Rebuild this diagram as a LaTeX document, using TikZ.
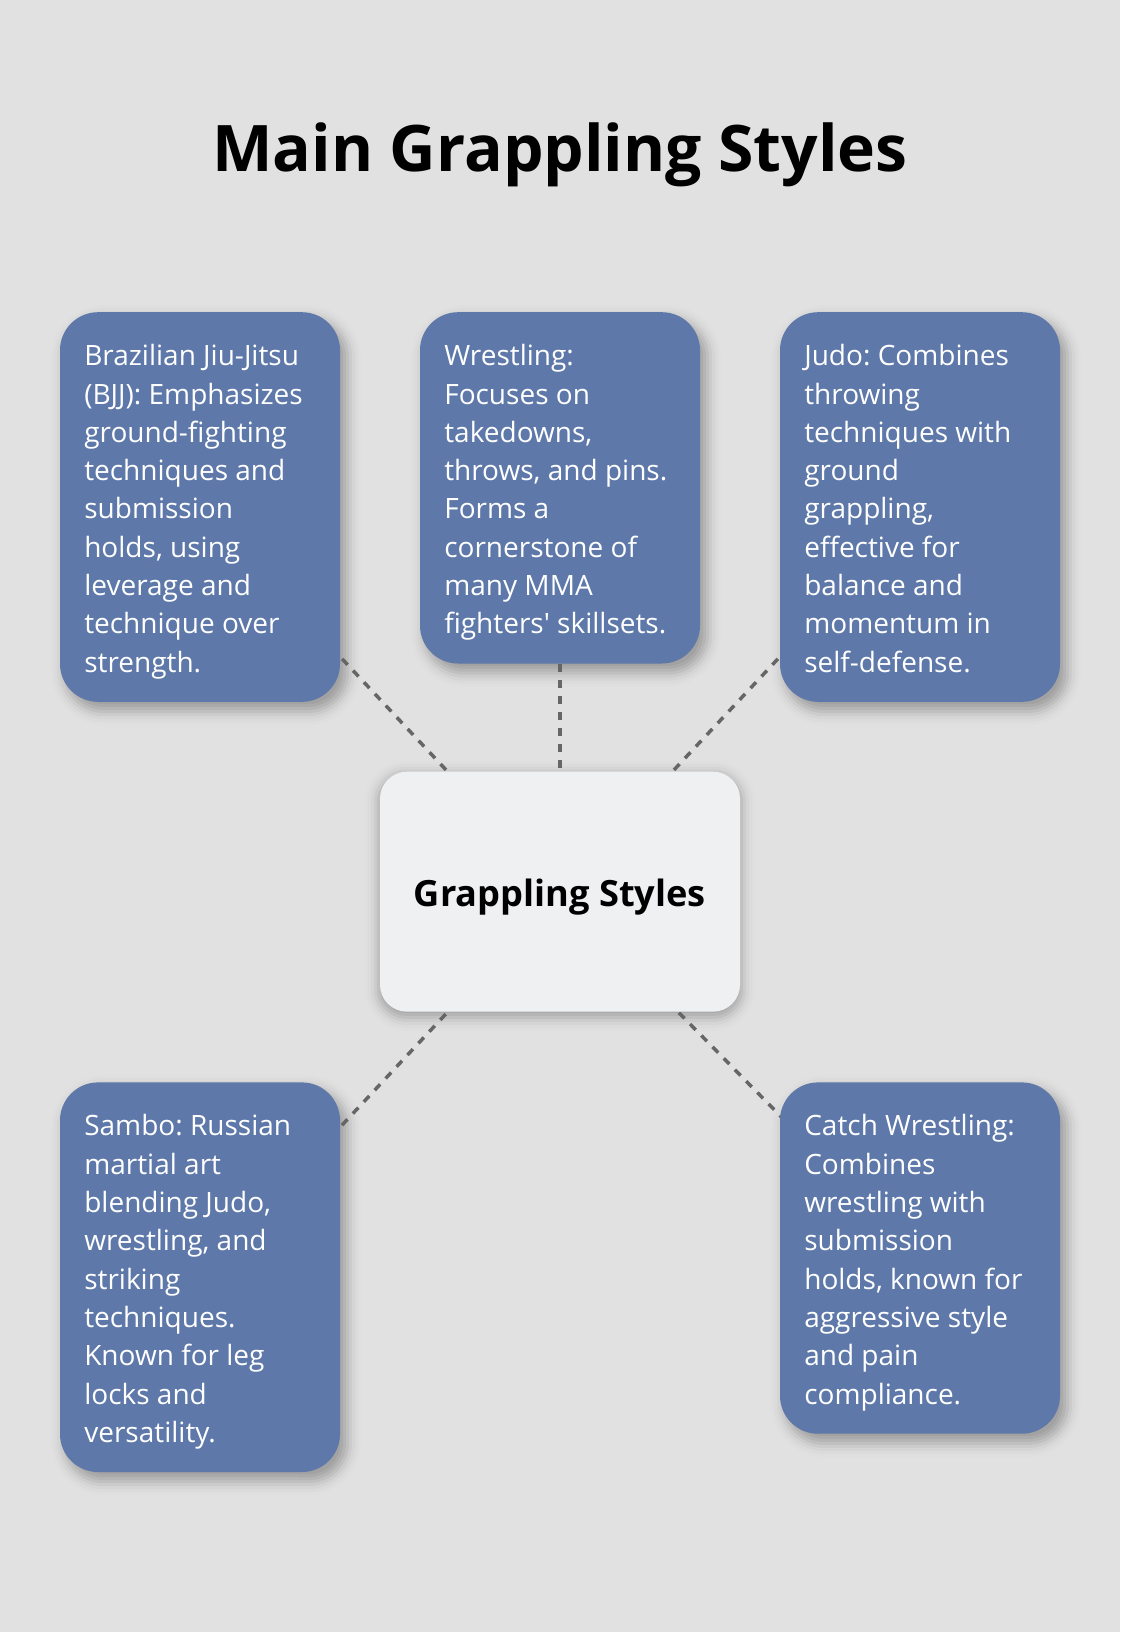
\documentclass[tikz,border=0pt]{standalone}
\usepackage{fontspec}
\setmainfont{Open Sans}
\frenchspacing
\pgfdeclarelayer{bg}
\pgfdeclarelayer{shadowlayer}
\pgfdeclarelayer{lines}
\pgfsetlayers{bg,shadowlayer,lines,main}
\definecolor{pagebg}{HTML}{E0E1E0}
\definecolor{boxblue}{HTML}{5D78A9}
\definecolor{hubfill}{HTML}{EFF0F2}
\definecolor{dashgray}{HTML}{666666}
% soft drop shadow built from stacked translucent rounded rectangles
\newcommand\dropshadow[4]{%
  \foreach \k/\o in {-6/0.045,-3/0.055,0/0.06,3/0.055,6/0.04,9/0.025,12/0.015,15/0.008}{%
    \pgfmathsetmacro\rr{max(1,#4+\k)}%
    \pgfmathsetmacro\xa{#2-(\k)}\pgfmathsetmacro\ya{#3-(\k)}%
    \pgfmathsetmacro\xb{#2+\k}\pgfmathsetmacro\yb{#3+\k}%
    \fill[black, fill opacity=\o, rounded corners=\rr pt]
      ([shift={(\xa,\ya)}]#1.north west) rectangle ([shift={(\xb,\yb)}]#1.south east);
  }}
\begin{document}
\begin{tikzpicture}[x=1pt,y=-1pt,
  stylebox/.style={fill=boxblue, rounded corners=38pt, minimum width=280pt, inner sep=0pt},
  styletext/.style={anchor=north west, inner sep=0pt, align=left, text=white,
    font=\fontsize{28}{38.3}\selectfont, xshift=24.3pt, yshift=-23.5pt},
  hub/.style={fill=hubfill, rounded corners=27pt, minimum width=360pt, minimum height=240pt, inner sep=0pt,
    text height=30pt, text depth=1.4pt, font=\bfseries\fontsize{36.2}{44}\selectfont},
  link/.style={dashgray, line width=3.5pt, dash pattern=on 8pt off 8pt}]
\begin{pgfonlayer}{bg}
\fill[pagebg] (0,0) rectangle (1120,1632);
\end{pgfonlayer}
\useasboundingbox (0,0) rectangle (1120,1632);

\node[anchor=base, font=\bfseries\fontsize{64.2}{76}\selectfont] (title) at (560,171.7) {Main Grappling Styles};

\node[stylebox, minimum height=389.6pt] (bjj) at (200,507) {};
\node[styletext] (bjjt) at (bjj.north west) {\rule{0pt}{30pt}Brazilian Jiu-Jitsu\\(BJJ): Emphasizes\\ground-fighting\\techniques and\\submission\\holds, using\\leverage and\\technique over\\strength.};

\node[stylebox, minimum height=351.3pt] (wre) at (560,487.85) {};
\node[styletext] (wret) at (wre.north west) {\rule{0pt}{30pt}Wrestling:\\Focuses on\\takedowns,\\throws, and pins.\\Forms a\\cornerstone of\\many MMA\\fighters\textquotesingle{} skillsets.};

\node[stylebox, minimum height=389.6pt] (judo) at (920,507) {};
\node[styletext] (judot) at (judo.north west) {\rule{0pt}{30pt}Judo: Combines\\throwing\\techniques with\\ground\\grappling,\\effective for\\balance and\\momentum in\\self-defense.};

\node[stylebox, minimum height=389.6pt] (sambo) at (200,1277.2) {};
\node[styletext] (sambot) at (sambo.north west) {\rule{0pt}{30pt}Sambo: Russian\\martial art\\blending Judo,\\wrestling, and\\striking\\techniques.\\Known for leg\\locks and\\versatility.};

\node[stylebox, minimum height=351.3pt] (catch) at (920,1258.05) {};
\node[styletext] (catcht) at (catch.north west) {\rule{0pt}{30pt}Catch Wrestling:\\Combines\\wrestling with\\submission\\holds, known for\\aggressive style\\and pain\\compliance.};

\node[hub] (hubnode) at (560,891.7) {Grappling Styles};

\begin{pgfonlayer}{shadowlayer}
\dropshadow{bjj}{6}{8}{38}
\dropshadow{wre}{6}{8}{38}
\dropshadow{judo}{6}{8}{38}
\dropshadow{sambo}{6}{8}{38}
\dropshadow{catch}{6}{8}{38}
\dropshadow{hubnode}{0}{4}{27}
\end{pgfonlayer}

\begin{pgfonlayer}{lines}
\draw[link] (bjj.center) -- (hubnode.center);
\draw[link] (wre.center) -- (hubnode.center);
\draw[link] (judo.center) -- (hubnode.center);
\draw[link] (sambo.center) -- (hubnode.center);
\draw[link] (catch.center) -- (hubnode.center);
\end{pgfonlayer}
\end{tikzpicture}
\end{document}
